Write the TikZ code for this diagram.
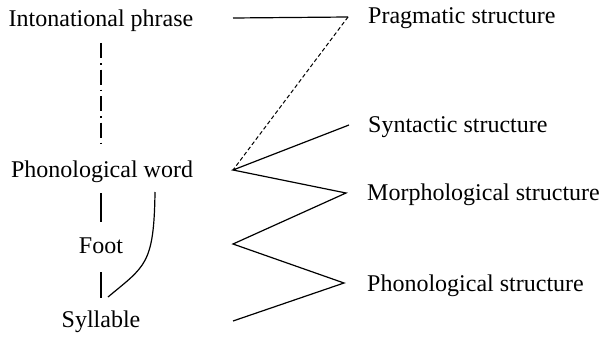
\documentclass[tikz,border=0pt]{standalone}
\usepackage{fontspec}
\setmainfont{Liberation Serif}
\usepackage{tikz}
\usetikzlibrary{positioning,calc}
\tikzset{
 unitlabel/.style={inner sep=0pt, anchor=base, font=\fontsize{24}{28}\selectfont},
 structlabel/.style={inner sep=0pt, anchor=base west, font=\fontsize{24}{28}\selectfont},
 link/.style={line width=1.2pt, line join=miter},
 dashlink/.style={link, line width=1pt, dash pattern=on 4pt off 2.5pt},
 dotlink/.style={link, dash pattern=on 15pt off 5pt on 1.5pt off 5pt}
}
\begin{document}
\begin{tikzpicture}[x=1pt,y=-1pt]
\useasboundingbox (0,0) rectangle (604,337);
% prosodic units
\node[unitlabel] (ip) at (101,27) {Intonational phrase};
\node[unitlabel] (pw) at (102,177) {Phonological word};
\node[unitlabel] (foot) at (101,253) {Foot};
\node[unitlabel] (syl) at (101,327) {Syllable};
% structures
\node[structlabel] (prag) at (368,24) {Pragmatic structure};
\node[structlabel] (synt) at (368,132) {Syntactic structure};
\node[structlabel] (morph) at (367,200) {Morphological structure};
\node[structlabel] (phon) at (367,291) {Phonological structure};
% zigzag corners
\coordinate (ipend) at (233,18);
\coordinate (pragpt) at (348,17);
\coordinate (syntpt) at (349,125);
\coordinate (pwpt) at (233,170);
\coordinate (morphpt) at (346,193);
\coordinate (footpt) at (233,244);
\coordinate (phonpt) at (344,283);
\coordinate (sylpt) at (233,321);
\draw[dotlink] (101,43) -- (101,147);
\draw[link] (101,193) -- (101,222);
\draw[link] (101,272) -- (101,298);
\draw[link] (155,192) .. controls (154,265) and (145,266) .. (108,297);
\draw[link] (ipend) -- (pragpt);
\draw[dashlink] (pragpt) -- (pwpt);
\draw[link] (syntpt) -- (pwpt) -- (morphpt) -- (footpt) -- (phonpt) -- (sylpt);
\end{tikzpicture}
\end{document}
